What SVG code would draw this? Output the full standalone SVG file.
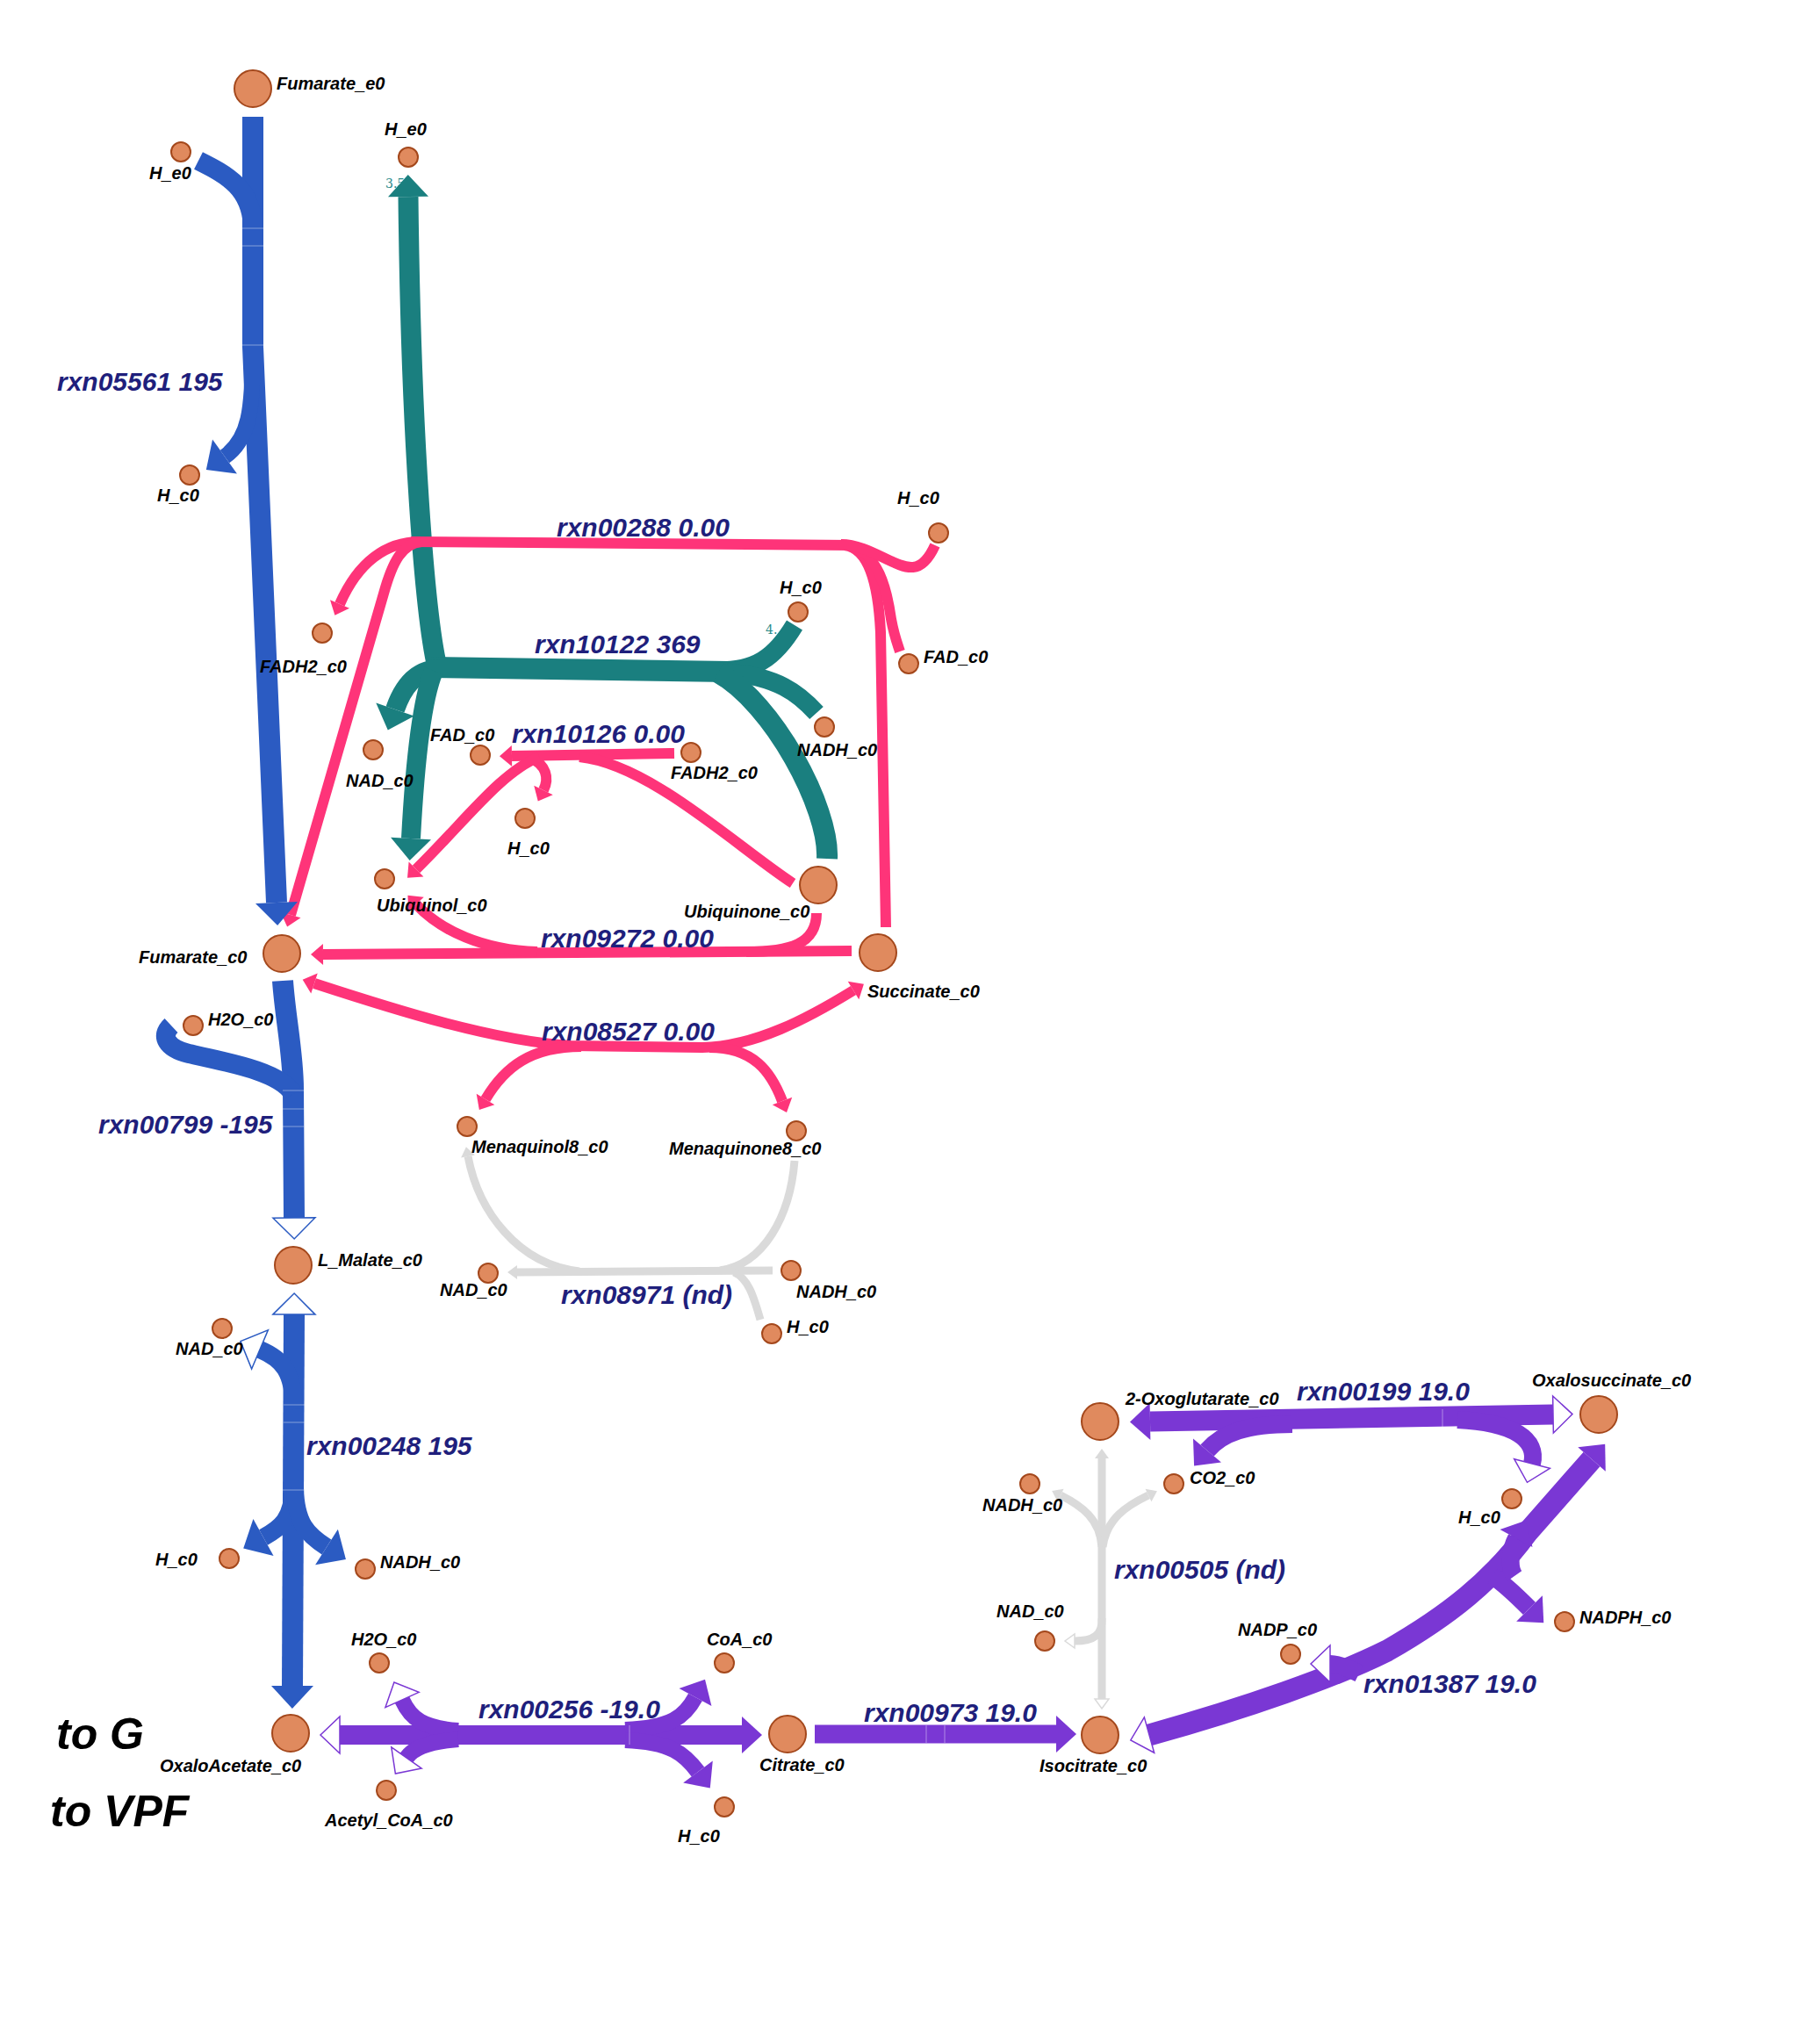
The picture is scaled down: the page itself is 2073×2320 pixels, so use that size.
<svg xmlns="http://www.w3.org/2000/svg" width="2073" height="2320" viewBox="0 0 2073 2320">
<style>
  .e { fill: none; stroke-linecap: butt; stroke-linejoin: round; }
  .blue { stroke: #2b5bc2; }
  .teal { stroke: #1a7f7f; }
  .pink { stroke: #fe3479; }
  .purple { stroke: #7a37d4; }
  .grey { stroke: #dadada; }
  .seam { stroke: #ffffff; stroke-opacity: 0.28; stroke-width: 1.5; fill: none; }
  .node circle { fill: #e08a5e; stroke: #a4481c; stroke-width: 2; }
  .lbl { font-family: "Liberation Sans", Arial, sans-serif; font-weight: bold; font-style: italic; font-size: 20px; fill: #000; }
  .rxn { font-family: "Liberation Sans", Arial, sans-serif; font-weight: bold; font-style: italic; font-size: 30px; fill: #1f1f7c; }
  .big { font-size: 50px; fill: #000; }
  .flux { font-family: "DejaVu Serif", serif; font-size: 14px; fill: #2a8a8a; }
</style>
<defs>
  <marker id="aBlue" markerUnits="userSpaceOnUse" orient="auto-start-reverse" refX="0" refY="0" markerWidth="60" markerHeight="60" overflow="visible"><path d="M0,-24 L26,0 L0,24 z" fill="#2b5bc2"/></marker>
  <marker id="hBlue" markerUnits="userSpaceOnUse" orient="auto-start-reverse" refX="0" refY="0" markerWidth="60" markerHeight="60" overflow="visible"><path d="M0,-24 L24,0 L0,24 z" fill="#fff" stroke="#2b5bc2" stroke-width="1.5"/></marker>
  <marker id="aTeal" markerUnits="userSpaceOnUse" orient="auto-start-reverse" refX="0" refY="0" markerWidth="60" markerHeight="60" overflow="visible"><path d="M0,-23 L25,0 L0,23 z" fill="#1a7f7f"/></marker>
  <marker id="aPink" markerUnits="userSpaceOnUse" orient="auto-start-reverse" refX="0" refY="0" markerWidth="40" markerHeight="40" overflow="visible"><path d="M0,-12 L14,0 L0,12 z" fill="#fe3479"/></marker>
  <marker id="aPurple" markerUnits="userSpaceOnUse" orient="auto-start-reverse" refX="0" refY="0" markerWidth="60" markerHeight="60" overflow="visible"><path d="M0,-21 L23,0 L0,21 z" fill="#7a37d4"/></marker>
  <marker id="hPurple" markerUnits="userSpaceOnUse" orient="auto-start-reverse" refX="0" refY="0" markerWidth="60" markerHeight="60" overflow="visible"><path d="M0,-21 L22,0 L0,21 z" fill="#fff" stroke="#7a37d4" stroke-width="1.5"/></marker>
  <marker id="aGrey" markerUnits="userSpaceOnUse" orient="auto-start-reverse" refX="0" refY="0" markerWidth="30" markerHeight="30" overflow="visible"><path d="M0,-8 L11,0 L0,8 z" fill="#dadada"/></marker>
  <marker id="hGrey" markerUnits="userSpaceOnUse" orient="auto-start-reverse" refX="0" refY="0" markerWidth="30" markerHeight="30" overflow="visible"><path d="M0,-8 L11,0 L0,8 z" fill="#fff" stroke="#dadada" stroke-width="1.5"/></marker>
</defs>
<rect width="2073" height="2320" fill="#fff"/>

<g id="connectors">
  <!-- flux values partly hidden under arrowheads -->
  <text class="flux" x="439" y="214">3.5</text>
  <text class="flux" x="872" y="722">4.</text>

  <!-- rxn08971 (grey, no data) -->
  <g id="rxn08971" class="e grey" stroke-width="9">
    <path d="M905,1322 C900,1385 870,1440 820,1447"/>
    <path d="M660,1448 C590,1440 545,1380 533,1317" marker-end="url(#aGrey)"/>
    <path d="M880,1447 L589,1449" marker-end="url(#aGrey)"/>
    <path d="M836,1449 C852,1456 858,1475 866,1503"/>
  </g>
  <!-- rxn00505 (grey, no data) -->
  <g id="rxn00505" class="e grey" stroke-width="9">
    <path d="M1255,1935 L1255,1661" marker-start="url(#hGrey)" marker-end="url(#aGrey)"/>
    <path d="M1255,1762 C1253,1730 1232,1715 1208,1703" marker-end="url(#aGrey)"/>
    <path d="M1256,1762 C1260,1730 1283,1715 1308,1703" marker-end="url(#aGrey)"/>
    <path d="M1255,1843 C1256,1862 1246,1869 1224,1869" marker-end="url(#hGrey)"/>
  </g>

  <!-- rxn10122 (teal) -->
  <g id="rxn10122" class="e teal">
    <path d="M498,760 C484,700 468,500 465,224" stroke-width="23" marker-end="url(#aTeal)"/>
    <path d="M488,760 L830,765" stroke-width="24"/>
    <path d="M502,762 C472,762 458,785 450,808" stroke-width="22" marker-end="url(#aTeal)"/>
    <path d="M494,764 C479,800 472,880 468,955" stroke-width="22" marker-end="url(#aTeal)"/>
    <path d="M818,764 C860,764 882,750 905,712" stroke-width="21"/>
    <path d="M828,766 C885,770 910,790 930,812" stroke-width="21"/>
    <path d="M818,766 C880,800 945,920 942,978" stroke-width="24"/>
  </g>

  <!-- rxn00288 (pink) -->
  <g id="rxn00288" class="e pink" stroke-width="12">
    <path d="M468,617 L970,621"/>
    <path d="M478,617 C440,617 408,640 387,688" marker-end="url(#aPink)"/>
    <path d="M480,617 C458,619 447,640 437,676 L331,1042" marker-end="url(#aPink)"/>
    <path d="M962,621 C988,624 1000,660 1003,720 L1009,1056"/>
    <path d="M968,622 C1000,630 1010,670 1015,705 C1018,722 1021,730 1025,742"/>
    <path d="M958,620 C990,620 1020,648 1040,646 C1052,645 1060,632 1065,621"/>
  </g>
  <!-- rxn10126 (pink) -->
  <g id="rxn10126" class="e pink" stroke-width="12">
    <path d="M768,858 L583,861" marker-end="url(#aPink)"/>
    <path d="M903,1006 C840,965 740,870 660,862"/>
    <path d="M604,863 C622,871 626,886 619,900" marker-end="url(#aPink)"/>
    <path d="M614,862 C570,880 530,935 474,990" marker-end="url(#aPink)"/>
  </g>
  <!-- rxn09272 (pink) -->
  <g id="rxn09272" class="e pink" stroke-width="12">
    <path d="M970,1083 L368,1087" marker-end="url(#aPink)"/>
    <path d="M930,1040 C930,1075 900,1084 850,1084"/>
    <path d="M612,1084 C550,1082 502,1060 474,1030" marker-end="url(#aPink)"/>
  </g>
  <!-- rxn08527 (pink) -->
  <g id="rxn08527" class="e pink" stroke-width="12">
    <path d="M358,1120 C450,1150 560,1185 650,1191 L800,1193 C860,1192 920,1160 972,1128" marker-start="url(#aPink)" marker-end="url(#aPink)"/>
    <path d="M662,1192 C605,1192 575,1215 553,1252" marker-end="url(#aPink)"/>
    <path d="M808,1193 C858,1193 878,1220 891,1254" marker-end="url(#aPink)"/>
  </g>

  <!-- rxn05561 (blue) -->
  <g id="rxn05561" class="e blue">
    <path d="M288,133 L288,395 L315,1028" stroke-width="24" marker-end="url(#aBlue)"/>
    <path d="M226,183 C258,199 288,214 288,262" stroke-width="22"/>
    <path d="M288,395 C288,468 284,500 256,520" stroke-width="18" marker-end="url(#aBlue)"/>
    <path class="seam" d="M276,260 H300 M276,280 H300 M276,393 H300"/>
  </g>
  <!-- rxn00799 (blue) -->
  <g id="rxn00799" class="e blue">
    <path d="M322,1117 C325,1160 334,1200 334,1240 L335,1387" stroke-width="24" marker-end="url(#hBlue)"/>
    <path d="M334,1246 C320,1222 270,1212 215,1200 C190,1194 182,1180 195,1168" stroke-width="22"/>
    <path class="seam" d="M322,1242 H346 M322,1263 H346 M322,1283 H346"/>
  </g>
  <!-- rxn00248 (blue) -->
  <g id="rxn00248" class="e blue">
    <path d="M335,1497 L333,1920" stroke-width="24" marker-start="url(#hBlue)" marker-end="url(#aBlue)"/>
    <path d="M335,1605 C334,1562 322,1548 296,1537" stroke-width="20" marker-end="url(#hBlue)"/>
    <path d="M334,1695 C333,1730 320,1740 300,1751" stroke-width="20" marker-end="url(#aBlue)"/>
    <path d="M336,1695 C337,1735 350,1748 372,1762" stroke-width="20" marker-end="url(#aBlue)"/>
    <path class="seam" d="M323,1600 H347 M323,1620 H347 M322,1697 H346"/>
  </g>

  <!-- rxn00256 (purple) -->
  <g id="rxn00256" class="e purple">
    <path d="M387,1976 L845,1976" stroke-width="22" marker-start="url(#hPurple)" marker-end="url(#aPurple)"/>
    <path d="M522,1971 C482,1968 468,1958 458,1936" stroke-width="18" marker-end="url(#hPurple)"/>
    <path d="M522,1981 C485,1984 470,1992 463,2002" stroke-width="18" marker-end="url(#hPurple)"/>
    <path d="M712,1970 C765,1968 780,1955 792,1933" stroke-width="18" marker-end="url(#aPurple)"/>
    <path d="M712,1982 C765,1984 780,1998 795,2018" stroke-width="18" marker-end="url(#aPurple)"/>
    <path class="seam" d="M717,1965 V1987"/>
  </g>
  <!-- rxn00973 (purple) -->
  <g id="rxn00973" class="e purple">
    <path d="M928,1975 L1203,1975" stroke-width="21" marker-end="url(#aPurple)"/>
    <path class="seam" d="M1055,1965 V1985 M1076,1965 V1985"/>
  </g>
  <!-- rxn00199 (purple) -->
  <g id="rxn00199" class="e purple">
    <path d="M1769,1611 L1310,1619" stroke-width="23" marker-start="url(#hPurple)" marker-end="url(#aPurple)"/>
    <path d="M1472,1622 C1420,1622 1392,1632 1375,1652" stroke-width="20" marker-end="url(#aPurple)"/>
    <path d="M1660,1617 C1725,1620 1752,1640 1745,1667" stroke-width="20" marker-end="url(#hPurple)"/>
    <path class="seam" d="M1643,1605 V1628"/>
  </g>
  <!-- rxn01387 (purple) -->
  <g id="rxn01387" class="e purple">
    <path d="M1309,1976 C1420,1945 1520,1910 1580,1880 C1650,1840 1700,1800 1740,1745 L1813,1662" stroke-width="25" marker-start="url(#hPurple)" marker-end="url(#aPurple)"/>
    <path d="M1548,1906 C1532,1898 1522,1895 1515,1895" stroke-width="20" marker-end="url(#hPurple)"/>
    <path d="M1700,1795 C1715,1805 1728,1818 1742,1832" stroke-width="20" marker-end="url(#aPurple)"/>
    <path d="M1725,1795 C1718,1785 1720,1765 1727,1752" stroke-width="20" marker-end="url(#aPurple)"/>
  </g>
</g>

<g id="nodes">
  <g id="n-fumarate-e0" class="node"><circle cx="288" cy="101" r="21"/><text class="lbl" x="315" y="102">Fumarate_e0</text></g>
  <g id="n-h-e0-a" class="node"><circle cx="206" cy="173" r="11"/><text class="lbl" x="170" y="204">H_e0</text></g>
  <g id="n-h-e0-b" class="node"><circle cx="465" cy="179" r="11"/><text class="lbl" x="438" y="154">H_e0</text></g>
  <g id="n-h-c0-a" class="node"><circle cx="216" cy="541" r="11"/><text class="lbl" x="179" y="571">H_c0</text></g>
  <g id="n-h-c0-b" class="node"><circle cx="1069" cy="607" r="11"/><text class="lbl" x="1022" y="574">H_c0</text></g>
  <g id="n-fadh2-c0-a" class="node"><circle cx="367" cy="721" r="11"/><text class="lbl" x="296" y="766">FADH2_c0</text></g>
  <g id="n-h-c0-c" class="node"><circle cx="909" cy="697" r="11"/><text class="lbl" x="888" y="676">H_c0</text></g>
  <g id="n-fad-c0-a" class="node"><circle cx="1035" cy="756" r="11"/><text class="lbl" x="1052" y="755">FAD_c0</text></g>
  <g id="n-nad-c0-a" class="node"><circle cx="425" cy="854" r="11"/><text class="lbl" x="394" y="896">NAD_c0</text></g>
  <g id="n-fad-c0-b" class="node"><circle cx="547" cy="860" r="11"/><text class="lbl" x="490" y="844">FAD_c0</text></g>
  <g id="n-fadh2-c0-b" class="node"><circle cx="787" cy="857" r="11"/><text class="lbl" x="764" y="887">FADH2_c0</text></g>
  <g id="n-nadh-c0-a" class="node"><circle cx="939" cy="828" r="11"/><text class="lbl" x="908" y="861">NADH_c0</text></g>
  <g id="n-h-c0-d" class="node"><circle cx="598" cy="932" r="11"/><text class="lbl" x="578" y="973">H_c0</text></g>
  <g id="n-ubiquinol-c0" class="node"><circle cx="438" cy="1001" r="11"/><text class="lbl" x="429" y="1038">Ubiquinol_c0</text></g>
  <g id="n-ubiquinone-c0" class="node"><circle cx="932" cy="1008" r="21"/><text class="lbl" x="779" y="1045">Ubiquinone_c0</text></g>
  <g id="n-fumarate-c0" class="node"><circle cx="321" cy="1086" r="21"/><text class="lbl" x="158" y="1097">Fumarate_c0</text></g>
  <g id="n-succinate-c0" class="node"><circle cx="1000" cy="1085" r="21"/><text class="lbl" x="988" y="1136">Succinate_c0</text></g>
  <g id="n-h2o-c0-a" class="node"><circle cx="220" cy="1168" r="11"/><text class="lbl" x="237" y="1168">H2O_c0</text></g>
  <g id="n-menaquinol8-c0" class="node"><circle cx="532" cy="1283" r="11"/><text class="lbl" x="537" y="1313">Menaquinol8_c0</text></g>
  <g id="n-menaquinone8-c0" class="node"><circle cx="907" cy="1288" r="11"/><text class="lbl" x="762" y="1315">Menaquinone8_c0</text></g>
  <g id="n-l-malate-c0" class="node"><circle cx="334" cy="1441" r="21"/><text class="lbl" x="362" y="1442">L_Malate_c0</text></g>
  <g id="n-nad-c0-b" class="node"><circle cx="556" cy="1450" r="11"/><text class="lbl" x="501" y="1476">NAD_c0</text></g>
  <g id="n-nadh-c0-b" class="node"><circle cx="901" cy="1447" r="11"/><text class="lbl" x="907" y="1478">NADH_c0</text></g>
  <g id="n-h-c0-e" class="node"><circle cx="879" cy="1519" r="11"/><text class="lbl" x="896" y="1518">H_c0</text></g>
  <g id="n-nad-c0-c" class="node"><circle cx="253" cy="1513" r="11"/><text class="lbl" x="200" y="1543">NAD_c0</text></g>
  <g id="n-h-c0-f" class="node"><circle cx="261" cy="1775" r="11"/><text class="lbl" x="177" y="1783">H_c0</text></g>
  <g id="n-nadh-c0-c" class="node"><circle cx="416" cy="1787" r="11"/><text class="lbl" x="433" y="1786">NADH_c0</text></g>
  <g id="n-oxaloacetate-c0" class="node"><circle cx="331" cy="1974" r="21"/><text class="lbl" x="182" y="2018">OxaloAcetate_c0</text></g>
  <g id="n-h2o-c0-b" class="node"><circle cx="432" cy="1894" r="11"/><text class="lbl" x="400" y="1874">H2O_c0</text></g>
  <g id="n-acetyl-coa-c0" class="node"><circle cx="440" cy="2039" r="11"/><text class="lbl" x="370" y="2080">Acetyl_CoA_c0</text></g>
  <g id="n-coa-c0" class="node"><circle cx="825" cy="1894" r="11"/><text class="lbl" x="805" y="1874">CoA_c0</text></g>
  <g id="n-h-c0-g" class="node"><circle cx="825" cy="2058" r="11"/><text class="lbl" x="772" y="2098">H_c0</text></g>
  <g id="n-citrate-c0" class="node"><circle cx="897" cy="1975" r="21"/><text class="lbl" x="865" y="2017">Citrate_c0</text></g>
  <g id="n-isocitrate-c0" class="node"><circle cx="1253" cy="1976" r="21"/><text class="lbl" x="1184" y="2018">Isocitrate_c0</text></g>
  <g id="n-2-oxoglutarate-c0" class="node"><circle cx="1253" cy="1619" r="21"/><text class="lbl" x="1282" y="1600">2-Oxoglutarate_c0</text></g>
  <g id="n-oxalosuccinate-c0" class="node"><circle cx="1821" cy="1611" r="21"/><text class="lbl" x="1745" y="1579">Oxalosuccinate_c0</text></g>
  <g id="n-co2-c0" class="node"><circle cx="1337" cy="1690" r="11"/><text class="lbl" x="1355" y="1690">CO2_c0</text></g>
  <g id="n-nadh-c0-d" class="node"><circle cx="1173" cy="1690" r="11"/><text class="lbl" x="1119" y="1721">NADH_c0</text></g>
  <g id="n-h-c0-h" class="node"><circle cx="1722" cy="1707" r="11"/><text class="lbl" x="1661" y="1735">H_c0</text></g>
  <g id="n-nad-c0-d" class="node"><circle cx="1190" cy="1869" r="11"/><text class="lbl" x="1135" y="1842">NAD_c0</text></g>
  <g id="n-nadp-c0" class="node"><circle cx="1470" cy="1884" r="11"/><text class="lbl" x="1410" y="1863">NADP_c0</text></g>
  <g id="n-nadph-c0" class="node"><circle cx="1782" cy="1847" r="11"/><text class="lbl" x="1799" y="1849">NADPH_c0</text></g>
</g>

<g id="reaction-labels">
  <text class="rxn" x="65" y="445">rxn05561 195</text>
  <text class="rxn" x="634" y="611">rxn00288 0.00</text>
  <text class="rxn" x="609" y="744">rxn10122 369</text>
  <text class="rxn" x="583" y="846">rxn10126 0.00</text>
  <text class="rxn" x="616" y="1079">rxn09272 0.00</text>
  <text class="rxn" x="617" y="1185">rxn08527 0.00</text>
  <text class="rxn" x="112" y="1291">rxn00799 -195</text>
  <text class="rxn" x="639" y="1485">rxn08971 (nd)</text>
  <text class="rxn" x="349" y="1657">rxn00248 195</text>
  <text class="rxn" x="1477" y="1595">rxn00199 19.0</text>
  <text class="rxn" x="1269" y="1798">rxn00505 (nd)</text>
  <text class="rxn" x="545" y="1957">rxn00256 -19.0</text>
  <text class="rxn" x="984" y="1961">rxn00973 19.0</text>
  <text class="rxn" x="1553" y="1928">rxn01387 19.0</text>
</g>

<g id="targets">
  <text class="lbl big" x="64" y="1992">to G</text>
  <text class="lbl big" x="57" y="2080">to VPF</text>
</g>
</svg>
